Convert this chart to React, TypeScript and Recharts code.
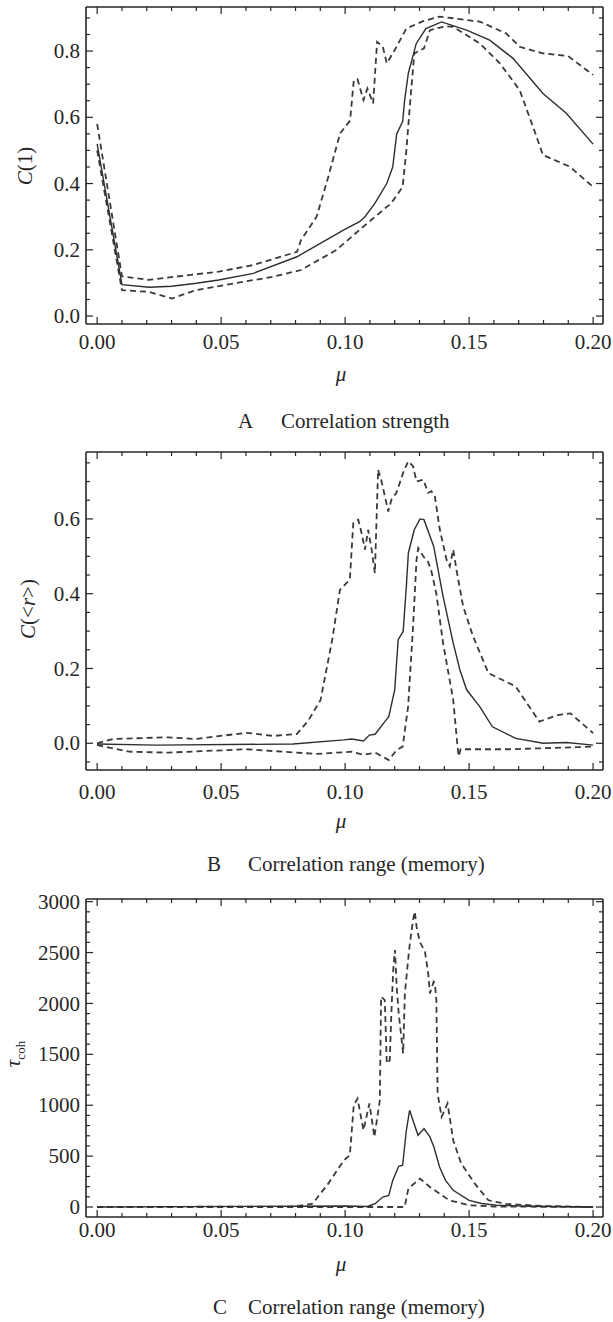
import { LineChart, Line, XAxis, YAxis } from "recharts";

const FONT = "'Liberation Serif', 'Times New Roman', serif";
const INK = "#262626";

// ---- shared mu axis ----
const muDomain = [-0.0045, 0.204];
const muMajor = [0, 0.05, 0.1, 0.15, 0.2];
const muMajorLabels = ["0.00", "0.05", "0.10", "0.15", "0.20"];
const muMinor = [
  0.01, 0.02, 0.03, 0.04, 0.06, 0.07, 0.08, 0.09, 0.11, 0.12, 0.13, 0.14, 0.16,
  0.17, 0.18, 0.19,
];

// ---- A: correlation strength C(1) ----
const aYMajor = [0, 0.2, 0.4, 0.6, 0.8];
const aYLabels = ["0.0", "0.2", "0.4", "0.6", "0.8"];
const aYMinor = [0.05, 0.1, 0.15, 0.25, 0.3, 0.35, 0.45, 0.5, 0.55, 0.65, 0.7, 0.75, 0.85, 0.9];

const aMeanMu = [0, 0.01, 0.021, 0.03, 0.04, 0.049, 0.063, 0.0806, 0.0995, 0.1058, 0.108, 0.112, 0.1168, 0.1192, 0.1208, 0.1232, 0.124, 0.1255, 0.1287, 0.1326, 0.1389, 0.149, 0.1583, 0.1677, 0.1798, 0.1892, 0.2];
const aMean = [0.52, 0.095, 0.087, 0.09, 0.099, 0.109, 0.129, 0.179, 0.26, 0.285, 0.3, 0.34, 0.4, 0.45, 0.55, 0.587, 0.652, 0.733, 0.823, 0.868, 0.888, 0.863, 0.833, 0.778, 0.672, 0.612, 0.519];

const aHighMu = [0, 0.01, 0.0208, 0.0318, 0.049, 0.063, 0.0806, 0.0822, 0.0885, 0.0932, 0.098, 0.102, 0.1035, 0.105, 0.1074, 0.109, 0.1113, 0.1129, 0.1152, 0.1168, 0.12, 0.1247, 0.131, 0.1381, 0.1436, 0.1543, 0.165, 0.1704, 0.1798, 0.1899, 0.2];
const aHigh = [0.58, 0.12, 0.109, 0.119, 0.134, 0.154, 0.194, 0.229, 0.3, 0.42, 0.552, 0.59, 0.712, 0.715, 0.652, 0.687, 0.642, 0.828, 0.813, 0.763, 0.803, 0.868, 0.889, 0.904, 0.899, 0.889, 0.853, 0.813, 0.793, 0.785, 0.728];

const aLowMu = [0, 0.01, 0.0208, 0.0302, 0.0397, 0.0554, 0.0712, 0.0822, 0.0964, 0.1058, 0.1121, 0.1185, 0.1232, 0.1247, 0.1263, 0.1279, 0.1318, 0.1342, 0.1405, 0.1436, 0.1543, 0.1624, 0.1704, 0.1758, 0.1798, 0.1906, 0.2];
const aLow = [0.5, 0.078, 0.073, 0.053, 0.078, 0.099, 0.119, 0.139, 0.199, 0.26, 0.3, 0.34, 0.39, 0.5, 0.652, 0.793, 0.808, 0.863, 0.875, 0.873, 0.823, 0.763, 0.682, 0.571, 0.486, 0.451, 0.39];

// ---- B: correlation range C(<r>) ----
const bYMajor = [0, 0.2, 0.4, 0.6];
const bYLabels = ["0.0", "0.2", "0.4", "0.6"];
const bYMinor = [-0.05, 0.05, 0.1, 0.15, 0.25, 0.3, 0.35, 0.45, 0.5, 0.55, 0.65, 0.7, 0.75];

const bMeanMu = [0, 0.024, 0.079, 0.0995, 0.1027, 0.1074, 0.1098, 0.1121, 0.116, 0.1176, 0.12, 0.1214, 0.1234, 0.1247, 0.1255, 0.1279, 0.1302, 0.1318, 0.1357, 0.1395, 0.1436, 0.1463, 0.149, 0.1543, 0.1594, 0.1688, 0.1799, 0.1893, 0.2];
const bMean = [-0.002, -0.005, -0.002, 0.009, 0.0115, 0.006, 0.022, 0.024, 0.058, 0.071, 0.143, 0.277, 0.299, 0.42, 0.509, 0.571, 0.6, 0.598, 0.527, 0.393, 0.268, 0.196, 0.143, 0.098, 0.044, 0.013, 0, 0.002, -0.005];

const bHighMu = [0, 0.0066, 0.0286, 0.0397, 0.0602, 0.0712, 0.0806, 0.0853, 0.0901, 0.0948, 0.0979, 0.1006, 0.1019, 0.1033, 0.1053, 0.1066, 0.108, 0.1093, 0.1107, 0.112, 0.1133, 0.1147, 0.1174, 0.1187, 0.1207, 0.1234, 0.1254, 0.1274, 0.1288, 0.1315, 0.1335, 0.1348, 0.1362, 0.1382, 0.1409, 0.1422, 0.1436, 0.1449, 0.1476, 0.1516, 0.1578, 0.1688, 0.1783, 0.1861, 0.1909, 0.2];
const bHigh = [0, 0.0115, 0.016, 0.0115, 0.028, 0.0196, 0.025, 0.062, 0.116, 0.277, 0.41, 0.429, 0.437, 0.589, 0.598, 0.563, 0.518, 0.571, 0.518, 0.455, 0.732, 0.7, 0.62, 0.652, 0.67, 0.723, 0.754, 0.741, 0.7, 0.705, 0.67, 0.674, 0.66, 0.571, 0.491, 0.473, 0.518, 0.464, 0.366, 0.286, 0.1875, 0.152, 0.058, 0.076, 0.08, 0.027];

const bLowMu = [0, 0.0129, 0.0286, 0.0602, 0.0885, 0.1027, 0.1074, 0.1121, 0.1176, 0.1208, 0.1232, 0.1254, 0.1274, 0.1288, 0.1295, 0.1315, 0.1335, 0.1348, 0.1368, 0.1395, 0.1436, 0.1452, 0.1458, 0.1466, 0.1657, 0.1814, 0.2];
const bLow = [-0.005, -0.0225, -0.025, -0.016, -0.0286, -0.0225, -0.031, -0.025, -0.045, -0.018, -0.009, 0.098, 0.312, 0.491, 0.522, 0.5, 0.485, 0.46, 0.4, 0.268, 0.116, 0.0, -0.035, -0.016, -0.016, -0.013, -0.009];

// ---- C: coherence time tau_coh ----
const cYMajor = [0, 500, 1000, 1500, 2000, 2500, 3000];
const cYLabels = ["0", "500", "1000", "1500", "2000", "2500", "3000"];
const cYMinor = Array.from({ length: 31 }, (_, i) => i * 100).filter((t) => t % 500 !== 0);

const cMeanMu = [0, 0.1, 0.109, 0.1121, 0.1152, 0.1176, 0.1192, 0.1216, 0.1232, 0.1247, 0.126, 0.1294, 0.1318, 0.1342, 0.1358, 0.1381, 0.1405, 0.1436, 0.15, 0.155, 0.161, 0.175, 0.2];
const cMean = [0, 10, 5, 33, 98, 115, 262, 400, 410, 754, 950, 705, 771, 689, 590, 393, 262, 164, 66, 35, 17, 8, 0];

const cHighMu = [0, 0.08, 0.0869, 0.0932, 0.0995, 0.1019, 0.1035, 0.105, 0.1074, 0.1098, 0.1118, 0.114, 0.1145, 0.116, 0.1168, 0.118, 0.1187, 0.1194, 0.1201, 0.1208, 0.1216, 0.1234, 0.1241, 0.1254, 0.1261, 0.1275, 0.1281, 0.1288, 0.1301, 0.1322, 0.1335, 0.1342, 0.1357, 0.1362, 0.1368, 0.1373, 0.1389, 0.1413, 0.1436, 0.1468, 0.1523, 0.1578, 0.165, 0.18, 0.2];
const cHigh = [0, 5, 33, 230, 459, 508, 1000, 1066, 754, 1017, 689, 1049, 2066, 2033, 1410, 1443, 1935, 2328, 2525, 2164, 1902, 1509, 2099, 2426, 2590, 2836, 2902, 2754, 2606, 2508, 2295, 2099, 2213, 2197, 2033, 1115, 885, 1017, 656, 427, 230, 66, 30, 10, 0];

const cLowMu = [0, 0.124, 0.1255, 0.1302, 0.1342, 0.142, 0.15, 0.16, 0.2];
const cLow = [0, 0, 181, 279, 197, 66, 17, 5, 0];

const keyOf = (v: number) => Number(v).toFixed(4);

function labelMap(major: number[], labels: string[]) {
  const m: Record<string, string> = {};
  major.forEach((v, i) => (m[keyOf(v)] = labels[i]));
  return m;
}

function AxisTick(props: any) {
  const { x, y, payload, side, labels, labelDy } = props;
  const label = labels[keyOf(payload.value)];
  const major = label !== undefined;
  const len = major ? 7 : 4;
  let x2 = x;
  let y2 = y;
  if (side === "bottom") y2 = y - len;
  if (side === "top") y2 = y + len;
  if (side === "left") x2 = x + len;
  if (side === "right") x2 = x - len;
  return (
    <g>
      <line x1={x} y1={y} x2={x2} y2={y2} stroke={INK} strokeWidth={1.2} />
      {major && side === "bottom" && (
        <text x={x} y={y + labelDy} textAnchor="middle" fontSize={21} fontFamily={FONT} fill={INK}>
          {label}
        </text>
      )}
      {major && side === "left" && (
        <text x={x - 6} y={y} dy="0.34em" textAnchor="end" fontSize={21} fontFamily={FONT} fill={INK}>
          {label}
        </text>
      )}
    </g>
  );
}

interface Series {
  name: string;
  mu: number[];
  v: number[];
  dashed: boolean;
}

interface PanelProps {
  top: number;
  height: number;
  plotTop: number;
  plotBottom: number;
  xLabelDy: number;
  yDomain: number[];
  yMajor: number[];
  yLabels: string[];
  yMinor: number[];
  series: Series[];
}

const frameLine = { stroke: INK, strokeWidth: 1.6 };

function Panel(p: PanelProps) {
  const topH = p.plotTop - p.top;
  const botH = p.top + p.height - p.plotBottom;
  const xTicks = [...muMajor, ...muMinor];
  const yTicks = [...p.yMajor, ...p.yMinor];
  const xLab = labelMap(muMajor, muMajorLabels);
  const yLab = labelMap(p.yMajor, p.yLabels);
  const axisCommon = {
    type: "number" as const,
    allowDataOverflow: true,
    interval: 0 as const,
    tickSize: 0,
    tickMargin: 0,
    tickLine: false,
    axisLine: frameLine,
  };
  return (
    <div style={{ position: "absolute", left: 0, top: p.top }}>
      <LineChart width={613} height={p.height} margin={{ top: 0, right: 0, bottom: 0, left: 0 }}>
        <XAxis
          {...axisCommon}
          xAxisId="b"
          orientation="bottom"
          dataKey="mu"
          domain={muDomain}
          ticks={xTicks}
          height={botH}
          tick={(t: any) => <AxisTick {...t} side="bottom" labels={xLab} labelDy={p.xLabelDy} />}
        />
        <XAxis
          {...axisCommon}
          xAxisId="t"
          orientation="top"
          dataKey="mu"
          domain={muDomain}
          ticks={xTicks}
          height={topH}
          tick={(t: any) => <AxisTick {...t} side="top" labels={xLab} />}
        />
        <YAxis
          {...axisCommon}
          yAxisId="l"
          orientation="left"
          domain={p.yDomain}
          ticks={yTicks}
          width={86}
          tick={(t: any) => <AxisTick {...t} side="left" labels={yLab} />}
        />
        <YAxis
          {...axisCommon}
          yAxisId="r"
          orientation="right"
          domain={p.yDomain}
          ticks={yTicks}
          width={10}
          tick={(t: any) => <AxisTick {...t} side="right" labels={yLab} />}
        />
        {p.series.map((s) => (
          <Line
            key={s.name}
            xAxisId="b"
            yAxisId="l"
            type="linear"
            data={s.mu.map((m, i) => ({ mu: m, v: s.v[i] }))}
            dataKey="v"
            dot={false}
            activeDot={false}
            stroke={s.dashed ? "#3a3a3a" : "#2e2e2e"}
            strokeWidth={s.dashed ? 1.8 : 1.4}
            strokeDasharray={s.dashed ? "6 4" : undefined}
            isAnimationActive={false}
          />
        ))}
      </LineChart>
    </div>
  );
}

const txt = { fontFamily: FONT, fontSize: 21, fill: INK };

export default function App() {
  return (
    <div
      style={{
        position: "absolute",
        left: 0,
        top: 0,
        width: 613,
        height: 1322,
        background: "#fff",
        overflow: "hidden",
      }}
    >
      <Panel
        top={0}
        height={400}
        plotTop={7}
        plotBottom={324}
        xLabelDy={25}
        yDomain={[-0.024, 0.933]}
        yMajor={aYMajor}
        yLabels={aYLabels}
        yMinor={aYMinor}
        series={[
          { name: "high", mu: aHighMu, v: aHigh, dashed: true },
          { name: "low", mu: aLowMu, v: aLow, dashed: true },
          { name: "mean", mu: aMeanMu, v: aMean, dashed: false },
        ]}
      />
      <Panel
        top={440}
        height={400}
        plotTop={452}
        plotBottom={770}
        xLabelDy={29}
        yDomain={[-0.0715, 0.779]}
        yMajor={bYMajor}
        yLabels={bYLabels}
        yMinor={bYMinor}
        series={[
          { name: "high", mu: bHighMu, v: bHigh, dashed: true },
          { name: "low", mu: bLowMu, v: bLow, dashed: true },
          { name: "mean", mu: bMeanMu, v: bMean, dashed: false },
        ]}
      />
      <Panel
        top={890}
        height={400}
        plotTop={899}
        plotBottom={1217}
        xLabelDy={20}
        yDomain={[-98, 3026]}
        yMajor={cYMajor}
        yLabels={cYLabels}
        yMinor={cYMinor}
        series={[
          { name: "high", mu: cHighMu, v: cHigh, dashed: true },
          { name: "low", mu: cLowMu, v: cLow, dashed: true },
          { name: "mean", mu: cMeanMu, v: cMean, dashed: false },
        ]}
      />
      <svg
        width={613}
        height={1322}
        style={{ position: "absolute", left: 0, top: 0, pointerEvents: "none" }}
      >
        {/* y-axis titles */}
        <text transform="translate(25,166) rotate(-90)" textAnchor="middle" dy="0.35em" {...txt}>
          <tspan fontStyle="italic">C</tspan>(1)
        </text>
        <text transform="translate(28,609) rotate(-90)" textAnchor="middle" dy="0.35em" {...txt}>
          <tspan fontStyle="italic">C</tspan>(&lt;<tspan fontStyle="italic">r</tspan>&gt;)
        </text>
        <text transform="translate(20,1054) rotate(-90)" textAnchor="middle" {...txt}>
          <tspan fontStyle="italic">τ</tspan>
          <tspan fontSize={13} dy={5}>coh</tspan>
        </text>

        {/* x-axis titles */}
        <text x={341} y={381} textAnchor="middle" fontStyle="italic" {...txt}>μ</text>
        <text x={341} y={828} textAnchor="middle" fontStyle="italic" {...txt}>μ</text>
        <text x={341} y={1271} textAnchor="middle" fontStyle="italic" {...txt}>μ</text>

        {/* captions */}
        <text x={238} y={428} {...txt}>A</text>
        <text x={281} y={428} {...txt}>Correlation strength</text>
        <text x={207} y={871} {...txt}>B</text>
        <text x={248} y={871} {...txt}>Correlation range (memory)</text>
        <text x={213} y={1314} {...txt}>C</text>
        <text x={248} y={1314} {...txt}>Correlation range (memory)</text>
      </svg>
    </div>
  );
}
